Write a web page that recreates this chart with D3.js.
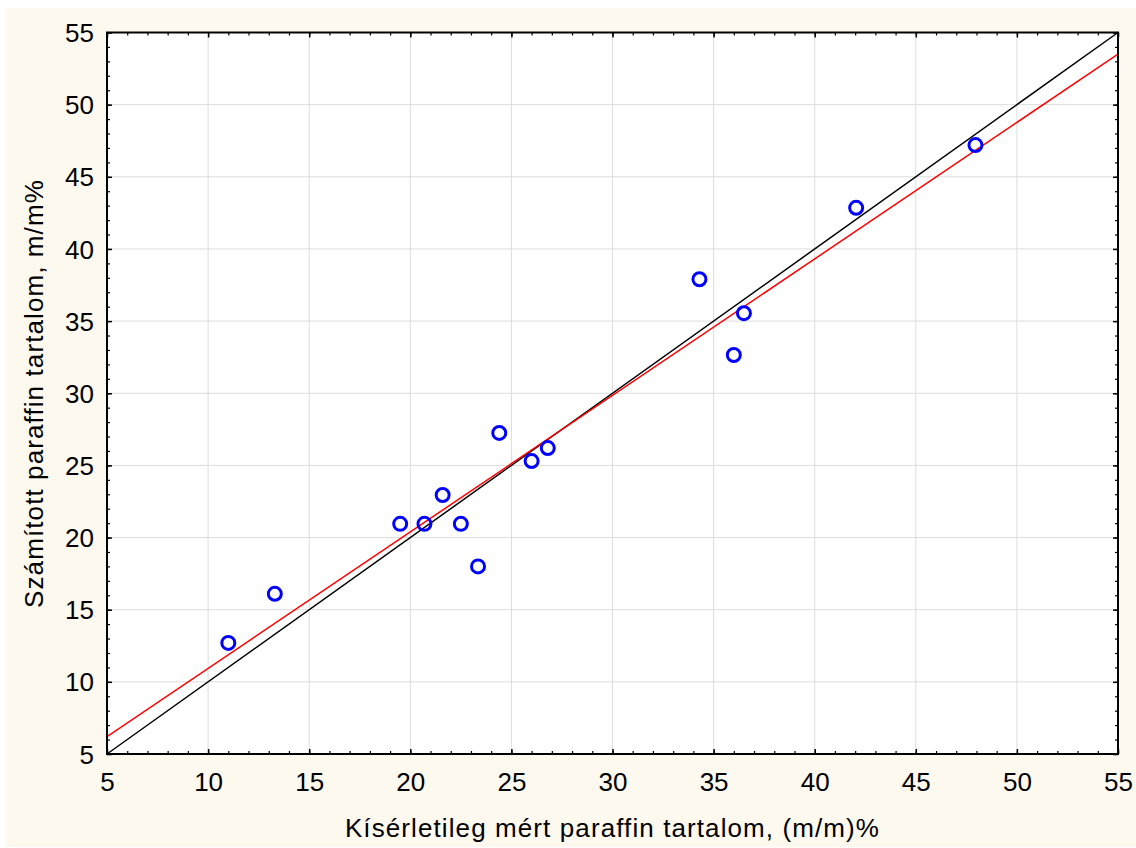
<!DOCTYPE html>
<html>
<head>
<meta charset="utf-8">
<script src="https://cdn.jsdelivr.net/npm/d3@7"></script>
<style>
  body { margin: 0; background: #fff; }
  svg { display: block; font-family: "Liberation Sans", Arial, sans-serif; }
</style>
</head>
<body>
<svg class="chart" width="1136" height="848"></svg>
<script>
// measured vs. calculated paraffin content
var measured   = [11.0, 13.3, 19.5, 20.7, 21.6, 22.5, 23.35, 24.4, 26.0, 26.8, 34.3, 36.0, 36.5, 42.05, 47.95];
var calculated = [12.7, 16.1, 20.95, 20.95, 22.95, 20.95, 18.0, 27.25, 25.3, 26.2, 37.9, 32.65, 35.55, 42.85, 47.2];
var majorTicks = [5, 10, 15, 20, 25, 30, 35, 40, 45, 50, 55];
var fitLine = { slope: 0.946, intercept: 1.47 };  // red regression line
var xTitle = "Kísérletileg mért paraffin tartalom, (m/m)%";
var yTitle = "Számított paraffin tartalom, m/m%";

var margin = {top: 32.5, right: 18, bottom: 94, left: 107},
    W = 1136, H = 848,
    width = W - margin.left - margin.right,
    height = H - margin.top - margin.bottom;

var svg = d3.select(".chart");

// cream background
svg.append("rect")
    .attr("x", 6).attr("y", 8)
    .attr("width", W - 6).attr("height", 839)
    .attr("fill", "#fdf9ef");

var g = svg.append("g")
    .attr("transform", "translate(" + margin.left + "," + margin.top + ")");

var x = d3.scaleLinear().domain([5, 55]).range([0, width]);
var y = d3.scaleLinear().domain([5, 55]).range([height, 0]);

g.append("rect")
    .attr("width", width).attr("height", height)
    .attr("fill", "#fff");

// grid
g.append("g").selectAll("line")
    .data(majorTicks.slice(1, -1))
    .enter().append("line")
    .attr("x1", function(d) { return x(d); })
    .attr("x2", function(d) { return x(d); })
    .attr("y1", 0).attr("y2", height)
    .attr("stroke", "#dcdcdc");
g.append("g").selectAll("line")
    .data(majorTicks.slice(1, -1))
    .enter().append("line")
    .attr("y1", function(d) { return y(d); })
    .attr("y2", function(d) { return y(d); })
    .attr("x1", 0).attr("x2", width)
    .attr("stroke", "#dcdcdc");

// inward ticks on all four sides
var minorTicks = d3.range(5, 56, 1);
function tickSide(axisFn, scale, transform, labels) {
    var ax = g.append("g").attr("transform", transform);
    ax.call(axisFn(scale).tickValues(minorTicks).tickSizeInner(-3).tickSizeOuter(0).tickFormat(""));
    ax.call(function(sel) { sel.selectAll(".domain").remove(); });
    var maj = g.append("g").attr("transform", transform);
    maj.call(axisFn(scale).tickValues(majorTicks).tickSizeInner(-5).tickSizeOuter(0)
        .tickFormat(labels ? d3.format("d") : ""));
    maj.select(".domain").remove();
    maj.selectAll("line").attr("stroke", "#000").attr("stroke-width", 1.5);
    ax.selectAll("line").attr("stroke", "#000").attr("stroke-width", 1.2);
    return maj;
}

var xb = tickSide(d3.axisBottom, x, "translate(0," + height + ")", true);
xb.selectAll("text")
    .attr("y", 37).attr("dy", 0)
    .attr("font-size", 26).attr("fill", "#000");
tickSide(d3.axisTop, x, "translate(0,0)", false);
var yl = tickSide(d3.axisLeft, y, "translate(0,0)", true);
yl.selectAll("text")
    .attr("x", -13).attr("dy", "0.35em")
    .attr("font-size", 26).attr("fill", "#000");
tickSide(d3.axisRight, y, "translate(" + width + ",0)", false);

// clip lines to plot
g.append("clipPath").attr("id", "clip")
    .append("rect").attr("width", width).attr("height", height);

var line = d3.line()
    .x(function(d) { return x(d[0]); })
    .y(function(d) { return y(d[1]); });

g.append("path")
    .datum([[5, 5], [55, 55]])
    .attr("d", line)
    .attr("fill", "none").attr("stroke", "#000").attr("stroke-width", 1.5);

g.append("path")
    .datum([5, 55].map(function(v) { return [v, fitLine.intercept + fitLine.slope * v]; }))
    .attr("d", line)
    .attr("clip-path", "url(#clip)")
    .attr("fill", "none").attr("stroke", "#ff0000").attr("stroke-width", 1.5);

// points
g.append("g").selectAll("circle")
    .data(measured.map(function(m, i) { return [m, calculated[i]]; }))
    .enter().append("circle")
    .attr("cx", function(d) { return x(d[0]); })
    .attr("cy", function(d) { return y(d[1]); })
    .attr("r", 6.5)
    .attr("fill", "none")
    .attr("stroke", "#0000ff")
    .attr("stroke-width", 3);

// frame
g.append("rect")
    .attr("width", width).attr("height", height)
    .attr("fill", "none").attr("stroke", "#000").attr("stroke-width", 2);

// axis titles
svg.append("text")
    .attr("x", margin.left + width / 2).attr("y", 837)
    .attr("text-anchor", "middle")
    .attr("font-size", 26)
    .attr("letter-spacing", 1.1)
    .text(xTitle);

svg.append("text")
    .attr("transform", "translate(43,393.5) rotate(-90)")
    .attr("text-anchor", "middle")
    .attr("font-size", 26)
    .attr("letter-spacing", 1.1)
    .text(yTitle);
</script>
</body>
</html>
